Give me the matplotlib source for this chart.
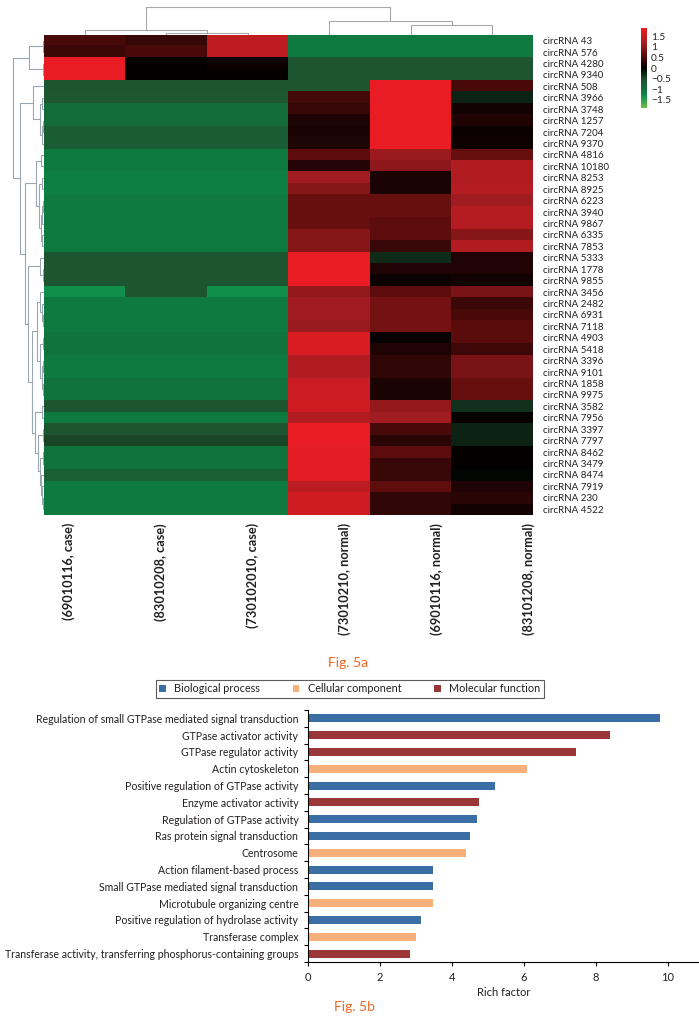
import matplotlib
matplotlib.use("Agg")
import matplotlib.pyplot as plt
import numpy as np
from matplotlib.colors import LinearSegmentedColormap
from matplotlib.patches import Patch

plt.rcParams['font.family'] = ['Lato', 'DejaVu Sans']
TXT = '#231f20'

# ---------------- Fig 5a data ----------------
samples = ['(69010116, case)', '(83010208, case)', '(730102010, case)',
           '(73010210, normal)', '(69010116, normal)', '(83101208, normal)']

circ_ids = ['43', '576', '4280', '9340', '508', '3966', '3748', '1257', '7204', '9370',
            '4816', '10180', '8253', '8925', '6223', '3940', '9867', '6335', '7853', '5333',
            '1778', '9855', '3456', '2482', '6931', '7118', '4903', '5418', '3396', '9101',
            '1858', '9975', '3582', '7956', '3397', '7797', '8462', '3479', '8474', '7919',
            '230', '4522']

# expression (row-scaled)
expr = [
    [0.48, 0.36, 1.45, -1.15, -1.15, -1.15],
    [0.40, 0.48, 1.45, -1.15, -1.15, -1.15],
    [1.85, 0.02, 0.10, -0.60, -0.60, -0.60],
    [1.85, 0.02, 0.03, -0.60, -0.60, -0.60],
    [-0.60, -0.60, -0.60, -0.60, 1.85, 0.48],
    [-0.62, -0.62, -0.62, 0.45, 1.85, -0.25],
    [-0.95, -0.95, -0.95, 0.38, 1.85, 0.12],
    [-0.95, -0.95, -0.95, 0.20, 1.85, 0.22],
    [-0.70, -0.70, -0.70, 0.18, 1.85, 0.08],
    [-0.70, -0.70, -0.70, 0.20, 1.85, 0.10],
    [-1.15, -1.15, -1.15, 0.62, 1.10, 0.70],
    [-1.15, -1.15, -1.15, 0.25, 1.00, 1.30],
    [-1.20, -1.20, -1.20, 1.15, 0.18, 1.30],
    [-1.20, -1.20, -1.20, 0.95, 0.18, 1.35],
    [-1.15, -1.15, -1.15, 0.70, 0.70, 1.15],
    [-1.15, -1.15, -1.15, 0.70, 0.70, 1.35],
    [-1.15, -1.15, -1.15, 0.70, 0.62, 1.35],
    [-1.15, -1.15, -1.15, 0.95, 0.62, 0.95],
    [-1.15, -1.15, -1.15, 0.95, 0.38, 1.30],
    [-0.60, -0.60, -0.60, 1.85, -0.30, 0.22],
    [-0.60, -0.60, -0.60, 1.85, 0.22, 0.22],
    [-0.60, -0.60, -0.60, 1.85, 0.08, 0.13],
    [-1.35, -0.60, -1.35, 1.05, 0.62, 0.85],
    [-1.15, -1.15, -1.15, 1.15, 0.80, 0.40],
    [-1.15, -1.15, -1.15, 1.15, 0.80, 0.48],
    [-1.15, -1.15, -1.15, 1.10, 0.80, 0.60],
    [-1.05, -1.05, -1.05, 1.70, 0.05, 0.60],
    [-1.05, -1.05, -1.05, 1.70, 0.22, 0.42],
    [-1.15, -1.15, -1.15, 1.30, 0.32, 0.85],
    [-1.15, -1.15, -1.15, 1.30, 0.32, 0.85],
    [-1.05, -1.05, -1.05, 1.55, 0.18, 0.70],
    [-1.05, -1.05, -1.05, 1.55, 0.18, 0.70],
    [-0.60, -0.60, -0.60, 1.60, 1.05, -0.35],
    [-1.15, -1.15, -1.15, 1.30, 1.15, 0.05],
    [-0.60, -0.60, -0.60, 1.85, 0.48, -0.25],
    [-0.50, -0.50, -0.50, 1.85, 0.27, -0.25],
    [-1.05, -1.05, -1.05, 1.80, 0.62, 0.03],
    [-1.05, -1.05, -1.05, 1.80, 0.38, 0.03],
    [-0.75, -0.75, -0.75, 1.80, 0.38, -0.05],
    [-1.15, -1.15, -1.15, 1.40, 0.65, 0.20],
    [-1.15, -1.15, -1.15, 1.60, 0.32, 0.27],
    [-1.15, -1.15, -1.15, 1.60, 0.32, 0.13],
]

# dendrograms: (left, right, height); leaves are row / column indices
row_tree = (
    ((0, 1, 1), (2, 3, 1), 15),
    ((4, ((5, 6, 2), ((7, 8, 1), 9, 2.5), 4), 11),
     (((10, 11, 3), ((12, 13, 2), (((14, 15, 1), 16, 2), (17, 18, 2), 3), 5), 8),
      ((19, (20, 21, 1), 4),
       (((22, (23, (24, 25, 1), 2), 4), ((26, 27, 1.5), ((28, 29, 1), (30, 31, 1), 2.5), 4), 7),
        ((32, 33, 2), ((34, 35, 1.5), ((36, 37, 1), (38, (39, (40, 41, 1), 2), 3), 4), 6), 9),
        12),
       16),
      19),
     24),
    31)
col_tree = ((0, (1, 2, 2), 5.3), (3, (4, 5, 10), 14), 28)

cb_ticks = [1.5, 1, 0.5, 0, -0.5, -1, -1.5]
cmap_vals = [-1.9, -1.35, -1.15, -0.6, 0, 0.6, 1.15, 1.9]
cmap_cols = ['#6cc04b', '#10904a', '#0e7a40', '#1e5530', '#000000', '#5a0c0c', '#a01c20', '#ee1c24']

# ---------------- Fig 5b data ----------------
terms = ['Regulation of small GTPase mediated signal transduction',
         'GTPase activator activity', 'GTPase regulator activity', 'Actin cytoskeleton',
         'Positive regulation of GTPase activity', 'Enzyme activator activity',
         'Regulation of GTPase activity', 'Ras protein signal transduction', 'Centrosome',
         'Action filament-based process', 'Small GTPase mediated signal transduction',
         'Microtubule organizing centre', 'Positive regulation of hydrolase activity',
         'Transferase complex',
         'Transferase activity, transferring phosphorus-containing groups']
rich = [9.78, 8.40, 7.43, 6.08, 5.19, 4.76, 4.70, 4.50, 4.40, 3.48, 3.48, 3.48, 3.15, 3.00, 2.84]
group = ['BP', 'MF', 'MF', 'CC', 'BP', 'MF', 'BP', 'BP', 'CC', 'BP', 'BP', 'CC', 'BP', 'CC', 'MF']
group_names = {'BP': 'Biological process', 'CC': 'Cellular component', 'MF': 'Molecular function'}
group_cols = {'BP': '#3a6ea5', 'CC': '#f7b07c', 'MF': '#9a3538'}

# ---------------- figure ----------------
W, H = 699, 1016
fig = plt.figure(figsize=(W / 100, H / 100), dpi=100)


def box(x0, y0, x1, y1):
    return [x0 / W, 1 - y1 / H, (x1 - x0) / W, (y1 - y0) / H]


cmap = LinearSegmentedColormap.from_list(
    'gkr', [((v - cmap_vals[0]) / (cmap_vals[-1] - cmap_vals[0]), c) for v, c in zip(cmap_vals, cmap_cols)])

ax = fig.add_axes(box(44, 35, 533, 515))
im = ax.imshow(np.array(expr), aspect='auto', cmap=cmap, vmin=-1.9, vmax=1.9, interpolation='nearest')
ax.set_xticks([])
ax.yaxis.tick_right()
ax.set_yticks(range(len(circ_ids)))
ax.set_yticklabels(['circRNA ' + c for c in circ_ids], fontsize=7, color=TXT)
ax.tick_params(axis='y', length=0, pad=7)
for s in ax.spines.values():
    s.set_visible(False)


def draw_tree(a, node, vertical, color):
    if isinstance(node, int):
        return node, 0
    l, r, h = node
    pl, hl = draw_tree(a, l, vertical, color)
    pr, hr = draw_tree(a, r, vertical, color)
    xs = [hl, h, h, hr]
    ys = [pl, pl, pr, pr]
    if vertical:
        a.plot(ys, xs, color=color, lw=0.8)
    else:
        a.plot(xs, ys, color=color, lw=0.8)
    return (pl + pr) / 2, h


axl = fig.add_axes(box(0, 35, 44, 515))
draw_tree(axl, row_tree, False, '#9aa6b2')
axl.set_xlim(44, 0)
axl.set_ylim(len(circ_ids) - 0.5, -0.5)
axl.axis('off')

axt = fig.add_axes(box(44, 0, 533, 35))
draw_tree(axt, col_tree, True, '#a8a8a8')
axt.set_xlim(-0.5, 5.5)
axt.set_ylim(0, 35)
axt.axis('off')

cax = fig.add_axes(box(641, 28, 647, 108))
cb = fig.colorbar(im, cax=cax, ticks=cb_ticks)
cb.outline.set_visible(False)
cb.ax.set_yticklabels([('%g' % t).replace('-', '\u2212') for t in cb_ticks], fontsize=7.3, color=TXT)
cb.ax.tick_params(length=0, pad=3)

label_x = [69 + 92 * i for i in range(len(samples))]
for x, s in zip(label_x, samples):
    fig.text(x / W, 1 - 523 / H, s, rotation=90, ha='center', va='top',
             fontsize=9.2, fontweight='bold', color=TXT)

fig.text(348 / W, 1 - 663 / H, 'Fig. 5a', ha='center', va='center', fontsize=10, color='#f26522')

# ---------------- bar chart ----------------
axb = fig.add_axes(box(308, 710, 699, 962))
ypos = np.arange(len(terms))
axb.barh(ypos, rich, height=0.48, color=[group_cols[g] for g in group])
axb.set_ylim(len(terms) - 0.5, -0.5)
axb.set_xlim(0, 10.86)
axb.set_yticks(ypos)
axb.set_yticklabels(terms, fontsize=7.6, color=TXT)
axb.set_yticks(np.arange(len(terms) + 1) - 0.5, minor=True)
axb.tick_params(axis='y', which='major', length=0, pad=7)
axb.tick_params(axis='y', which='minor', length=3, width=0.8, direction='out')
axb.set_xticks(range(0, 11, 2))
axb.tick_params(axis='x', length=3, width=0.8, labelsize=8, labelcolor=TXT, pad=4)
axb.set_xlabel('Rich factor', fontsize=8, color=TXT, labelpad=3)
for s in ['top', 'right']:
    axb.spines[s].set_visible(False)
for s in ['left', 'bottom']:
    axb.spines[s].set_linewidth(0.8)

handles = [Patch(facecolor=group_cols[k], edgecolor='none', label=group_names[k]) for k in ['BP', 'CC', 'MF']]
leg = fig.legend(handles=handles, loc='center', bbox_to_anchor=(350 / W, 1 - 689 / H), ncol=3,
                 fontsize=7.8, frameon=True, fancybox=False, edgecolor='#333333',
                 handlelength=0.6, handleheight=0.6, handletextpad=0.8, columnspacing=3.0,
                 borderpad=0.35)
leg.get_frame().set_linewidth(0.8)
for t in leg.get_texts():
    t.set_color(TXT)

fig.text(355 / W, 1 - 1007 / H, 'Fig. 5b', ha='center', va='center', fontsize=10, color='#f26522')

fig.savefig('out.png', dpi=100)
